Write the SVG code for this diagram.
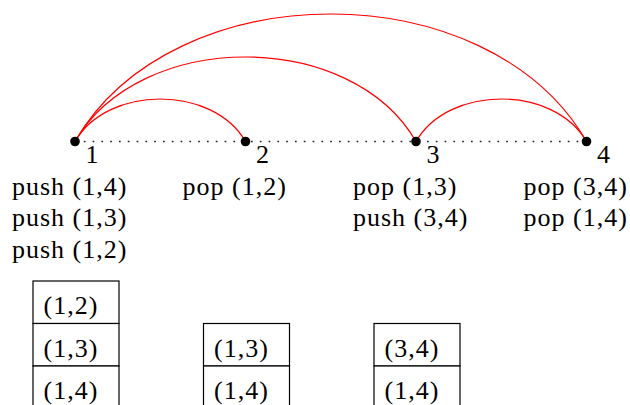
<svg xmlns="http://www.w3.org/2000/svg" width="630" height="405" viewBox="0 0 630 405">
<style>
text{font-family:"Liberation Serif","Times New Roman",serif;font-size:26px;fill:#000;letter-spacing:1px}
.arc{fill:none;stroke:#ff0000;stroke-width:1.2}
.dots{fill:none;stroke:#222;stroke-width:1.7;stroke-dasharray:1.7 7.1}
.cell{fill:#fff;stroke:#000;stroke-width:1.2}
.dot{fill:#000}
</style>
<rect width="630" height="405" fill="#fff"/>
<g id="connectors">
<path class="dots" d="M75,141.5 H586.5"/>
<path class="arc" d="M75,141.5 C107.7,84.8 212.8,84.8 245.5,141.5"/>
<path class="arc" d="M75,141.5 C140,28.8 351,28.8 416,141.5"/>
<path class="arc" d="M75,141.5 C173,-28.5 488.5,-28.5 586.5,141.5"/>
<path class="arc" d="M416,141.5 C448.7,84.8 553.8,84.8 586.5,141.5"/>
</g>
<g id="node1">
<circle class="dot" cx="75" cy="141.5" r="4.8"/>
<text x="85.5" y="162.5">1</text>
<text x="12" y="194.5">push (1,4)</text>
<text x="12" y="226">push (1,3)</text>
<text x="12" y="257.5">push (1,2)</text>
</g>
<g id="node2">
<circle class="dot" cx="245.5" cy="141.5" r="4.8"/>
<text x="256" y="162.5">2</text>
<text x="182.5" y="194.5">pop (1,2)</text>
</g>
<g id="node3">
<circle class="dot" cx="416" cy="141.5" r="4.8"/>
<text x="426.5" y="162.5">3</text>
<text x="353" y="194.5">pop (1,3)</text>
<text x="353" y="226">push (3,4)</text>
</g>
<g id="node4">
<circle class="dot" cx="586.5" cy="141.5" r="4.8"/>
<text x="597" y="162.5">4</text>
<text x="523.5" y="194.5">pop (3,4)</text>
<text x="523.5" y="226">pop (1,4)</text>
</g>
<g id="stack1">
<rect class="cell" x="33" y="281" width="86" height="42.5"/>
<rect class="cell" x="33" y="323.5" width="86" height="42.5"/>
<rect class="cell" x="33" y="366" width="86" height="42.5"/>
<text x="43.5" y="314">(1,2)</text>
<text x="43.5" y="356.5">(1,3)</text>
<text x="43.5" y="399">(1,4)</text>
</g>
<g id="stack2">
<rect class="cell" x="203.5" y="323.5" width="86" height="42.5"/>
<rect class="cell" x="203.5" y="366" width="86" height="42.5"/>
<text x="214" y="356.5">(1,3)</text>
<text x="214" y="399">(1,4)</text>
</g>
<g id="stack3">
<rect class="cell" x="374" y="323.5" width="86" height="42.5"/>
<rect class="cell" x="374" y="366" width="86" height="42.5"/>
<text x="384.5" y="356.5">(3,4)</text>
<text x="384.5" y="399">(1,4)</text>
</g>
</svg>
